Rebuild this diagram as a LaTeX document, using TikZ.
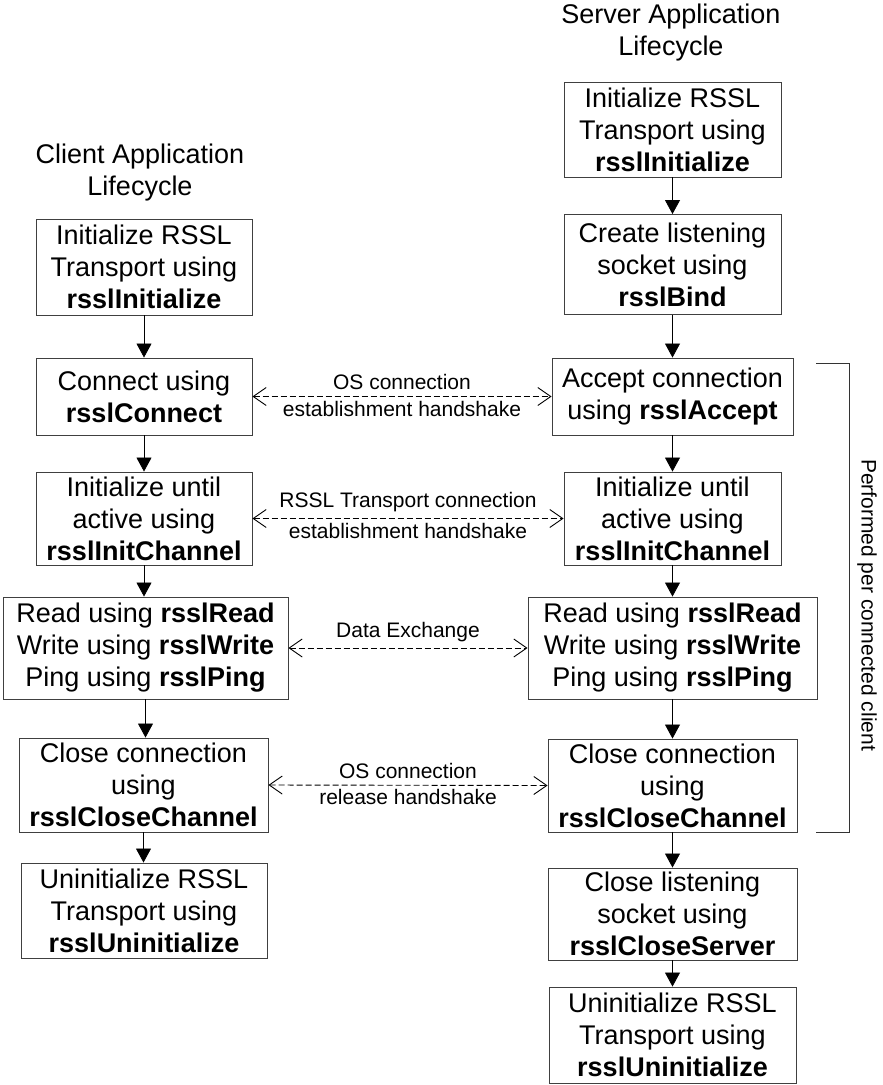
\documentclass[tikz,border=0pt]{standalone}
\usepackage{fontspec}
\setmainfont{Liberation Sans}
\usepackage{tikz}
\usetikzlibrary{arrows.meta,positioning}

\newcommand{\boxfont}{\fontsize{27}{32}\selectfont}
\newcommand{\labfont}{\fontsize{21}{23}\selectfont}

\tikzset{
  lifebox/.style={draw=black!75, line width=0.9pt, align=center, font=\boxfont, inner sep=0pt},
  flow/.style={line width=0.8pt, -{Triangle[length=14pt,width=15pt]}},
  shake/.style={line width=0.9pt, dash pattern=on 6pt off 3pt, {Straight Barb[length=13pt,width=18pt]}-{Straight Barb[length=13pt,width=18pt]}},
  shakelab/.style={font=\labfont, inner sep=0pt}
}

\begin{document}
\begin{tikzpicture}[x=1pt, y=-1pt]
\useasboundingbox (0,0) rectangle (883,1085);

% Titles
\node[font=\boxfont, align=center] (ctitle) at (140,173) {Client Application\\Lifecycle};
\node[font=\boxfont, align=center] (stitle) at (671,33) {Server Application\\Lifecycle};

% Client boxes
\node[lifebox, minimum width=216pt, minimum height=96pt] (c1) at (144,267) {Initialize RSSL\\Transport using\\\textbf{rsslInitialize}};
\node[lifebox, minimum width=216pt, minimum height=77pt] (c2) at (144,396.5) {Connect using\\\textbf{rsslConnect}};
\node[lifebox, minimum width=216pt, minimum height=93pt] (c3) at (144,518.5) {Initialize until\\active using\\\textbf{rsslInitChannel}};
\node[lifebox, minimum width=285pt, minimum height=102pt] (c4) at (145.5,648) {Read using \textbf{rsslRead}\\Write using \textbf{rsslWrite}\\Ping using \textbf{rsslPing}};
\node[lifebox, minimum width=249pt, minimum height=94pt] (c5) at (143.5,785) {Close connection\\using\\\textbf{rsslCloseChannel}};
\node[lifebox, minimum width=246pt, minimum height=95pt] (c6) at (144,910.5) {Uninitialize RSSL\\Transport using\\\textbf{rsslUninitialize}};

% Server boxes
\node[lifebox, minimum width=217pt, minimum height=95pt] (s1) at (672.5,129.5) {Initialize RSSL\\Transport using\\\textbf{rsslInitialize}};
\node[lifebox, minimum width=217pt, minimum height=100pt] (s2) at (672.5,264.5) {Create listening\\socket using\\\textbf{rsslBind}};
\node[lifebox, minimum width=241pt, minimum height=77pt] (s3) at (672.5,396.5) {Accept connection\\using \textbf{rsslAccept}};
\node[lifebox, minimum width=217pt, minimum height=93pt] (s4) at (672.5,518.5) {Initialize until\\active using\\\textbf{rsslInitChannel}};
\node[lifebox, minimum width=289pt, minimum height=102pt] (s5) at (672.5,648) {Read using \textbf{rsslRead}\\Write using \textbf{rsslWrite}\\Ping using \textbf{rsslPing}};
\node[lifebox, minimum width=249pt, minimum height=93pt] (s6) at (672.5,785.5) {Close connection\\using\\\textbf{rsslCloseChannel}};
\node[lifebox, minimum width=249pt, minimum height=92pt] (s7) at (672.5,914) {Close listening\\socket using\\\textbf{rsslCloseServer}};
\node[lifebox, minimum width=247pt, minimum height=96pt] (s8) at (672.5,1035) {Uninitialize RSSL\\Transport using\\\textbf{rsslUninitialize}};

% Flow arrows
\foreach \a/\b in {c1/c2, c2/c3, c3/c4, c4/c5, c5/c6, s1/s2, s2/s3, s3/s4, s4/s5, s5/s6, s6/s7, s7/s8}
  \draw[flow] (\a.south) -- (\a.south |- \b.north);

% Handshakes
\draw[shake] (c2.east) -- (s3.west)
  node[midway, above=6pt, shakelab] {OS connection}
  node[midway, below=4pt, shakelab] {establishment handshake};
\draw[shake] (c3.east) -- (s4.west)
  node[midway, above=6pt, shakelab] {RSSL Transport connection}
  node[midway, below=4pt, shakelab] {establishment handshake};
\draw[shake] (c4.east) -- (s5.west)
  node[midway, above=6pt, shakelab] {Data Exchange};
\draw[shake] (c5.east) -- (s6.west)
  node[midway, above=6pt, shakelab] {OS connection}
  node[midway, below=4pt, shakelab] {release handshake};

% Per client bracket
\coordinate (btop) at (816,363);
\coordinate (bbot) at (816,832);
\draw[line width=0.8pt, black!80] (btop) -- ++(33,0) coordinate (bcorner) |- (bbot);
\node[font=\labfont, rotate=-90] (perclient) at (867,605) {Performed per connected client};
\end{tikzpicture}
\end{document}
